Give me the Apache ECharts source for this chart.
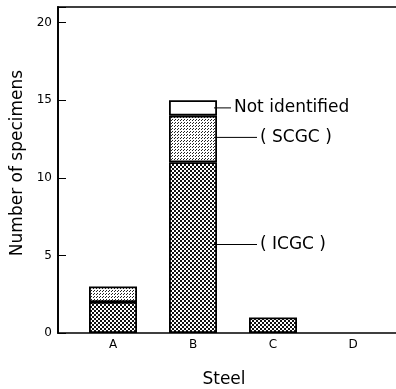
<!DOCTYPE html>
<html>
<head>
<meta charset="utf-8">
<script src="https://cdn.jsdelivr.net/npm/echarts@6/dist/echarts.min.js"></script>
<style>
  html, body { margin: 0; padding: 0; background: #fff; }
  #chart { width: 396px; height: 389px; }
</style>
</head>
<body>
<div id="chart"></div>
<script>
// Steel grades and specimen counts per fracture class
const steels = ['A', 'B', 'C', 'D'];
const icgc = [2, 11, 1, 0];
const scgc = [1, 3, 0, 0];
const notIdentified = [0, 1, 0, 0];
const yTicks = [0, 5, 10, 15, 20];

// Callout labels attached to bar B: text, y value of leader line, leader length
const calloutNames = ['Not identified', '( SCGC )', '( ICGC )'];
const calloutLevels = [14.5, 12.6, 5.7];
const calloutLeaderLen = [14, 40, 40];

function makePattern(size, draw) {
  const c = document.createElement('canvas');
  c.width = size; c.height = size;
  const g = c.getContext('2d');
  draw(g, size);
  return { image: c, repeat: 'repeat' };
}

// dense checker screen for ICGC
const densePattern = makePattern(4, (g) => {
  g.fillStyle = '#fff'; g.fillRect(0, 0, 4, 4);
  g.fillStyle = '#111';
  g.fillRect(0, 0, 2, 2);
  g.fillRect(2, 2, 2, 2);
  g.fillRect(1, 1, 1, 1);
});
// light dot screen for SCGC
const lightPattern = makePattern(3, (g) => {
  g.fillStyle = '#fff'; g.fillRect(0, 0, 3, 3);
  g.fillStyle = '#222';
  g.fillRect(0, 0, 1, 1);
  g.fillRect(1, 2, 1, 1);
});

// empty segments are left undrawn
const seg = (arr) => arr.map((v) => (v === 0 ? '-' : v));

const font = 'DejaVu Sans';
const chart = echarts.init(document.getElementById('chart'), null, { renderer: 'canvas' });

const barStyle = { borderColor: '#000', borderWidth: 1.8 };

chart.setOption({
  animation: false,
  backgroundColor: '#fff',
  grid: [
    { left: 58, right: -6, top: 7, bottom: 56, show: true, borderColor: '#000', borderWidth: 1.6,
      backgroundColor: 'transparent', outerBoundsMode: 'none', containLabel: false },
    { left: 73, right: 3, top: 7, bottom: 56, outerBoundsMode: 'none', containLabel: false }
  ],
  xAxis: [
    {
      gridIndex: 0, type: 'value', min: 0, max: 1,
      axisLine: { show: false }, axisTick: { show: false }, axisLabel: { show: false }, splitLine: { show: false },
      name: 'Steel', nameLocation: 'middle', nameGap: 38,
      nameTextStyle: { fontFamily: font, fontSize: 17, color: '#000', padding: [0, 12, 0, 0] }
    },
    {
      gridIndex: 1, type: 'category', data: steels,
      axisLine: { show: false }, axisTick: { show: false },
      axisLabel: { fontFamily: font, fontSize: 12, color: '#000', margin: 6 }
    }
  ],
  yAxis: [
    {
      gridIndex: 0, type: 'value', min: 0, max: 21, interval: 5,
      axisLine: { show: true, lineStyle: { color: '#000', width: 1.8 } },
      axisTick: { show: true, inside: true, length: 8, lineStyle: { color: '#000', width: 1 } },
      axisLabel: { fontFamily: font, fontSize: 12, color: '#000', margin: 6,
        formatter: (v) => (yTicks.indexOf(v) >= 0 ? String(v) : '') },
      splitLine: { show: false },
      name: 'Number of specimens', nameLocation: 'middle', nameGap: 24,
      nameTextStyle: { fontFamily: font, fontSize: 17, color: '#000', padding: [0, 0, 0, 14] }
    },
    {
      gridIndex: 1, type: 'value', min: 0, max: 21, show: false
    }
  ],
  series: [
    { name: 'ICGC', type: 'bar', xAxisIndex: 1, yAxisIndex: 1, stack: 'n', barWidth: 48,
      data: seg(icgc), itemStyle: Object.assign({ color: densePattern }, barStyle) },
    { name: 'SCGC', type: 'bar', xAxisIndex: 1, yAxisIndex: 1, stack: 'n', barWidth: 48,
      data: seg(scgc), itemStyle: Object.assign({ color: lightPattern }, barStyle) },
    { name: 'Not identified', type: 'bar', xAxisIndex: 1, yAxisIndex: 1, stack: 'n', barWidth: 48,
      data: seg(notIdentified), itemStyle: Object.assign({ color: '#fff' }, barStyle) }
  ]
});

// Leader lines and callout text to the right of bar B
const graphics = [];
calloutNames.forEach((label, i) => {
  const p = chart.convertToPixel({ gridIndex: 1 }, ['B', calloutLevels[i]]);
  const x0 = p[0] + 24;
  const x1 = x0 + calloutLeaderLen[i];
  graphics.push({
    type: 'line', z: 10,
    shape: { x1: x0 - 3, y1: p[1], x2: x1, y2: p[1] },
    style: { stroke: '#000', lineWidth: 1 }
  });
  graphics.push({
    type: 'text', z: 10,
    x: x1 + 3, y: p[1],
    style: { text: label, fill: '#000', font: '17px "' + font + '"', textVerticalAlign: 'middle', textAlign: 'left' }
  });
});
chart.setOption({ graphic: graphics });
</script>
</body>
</html>
